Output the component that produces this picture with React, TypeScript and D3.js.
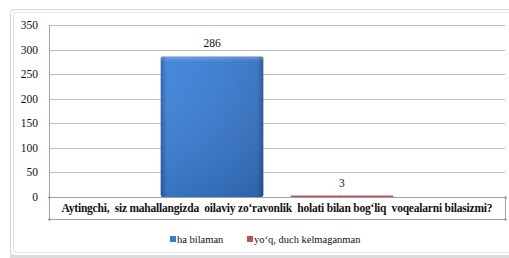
import * as d3 from "d3";

const categories = [
  "Aytingchi,  siz mahallangizda  oilaviy zo‘ravonlik  holati bilan bog‘liq  voqealarni bilasizmi?",
];
const seriesNames = ["ha bilaman", "yoʻq, duch kelmaganman"];
const seriesValues = [286, 3];
const seriesColors = ["#3a7bd0", "#c0504d"];
const yTicks = [0, 50, 100, 150, 200, 250, 300, 350];

const W = 509;
const H = 258;
const margin = { left: 49, right: 4, top: 25, axisY: 197, labelBottom: 219 };
const FONT = "'Liberation Serif', serif";
const legendX = [170, 247];

export default function App() {
  const x1 = margin.left;
  const x2 = W - margin.right;

  const y = d3.scaleLinear().domain([0, 350]).range([margin.axisY, margin.top]);

  const x0 = d3
    .scaleBand<string>()
    .domain(categories)
    .range([x1, x2])
    .paddingInner(0)
    .paddingOuter(0.48);

  const xs = d3
    .scaleBand<string>()
    .domain(seriesNames)
    .range([0, x0.bandwidth()])
    .paddingInner(0.21);

  const axisColor = "#9aa3ad";
  const y0 = Math.round(y(0)) + 0.5;
  const yb = margin.labelBottom + 0.5;

  return (
    <svg
      width={W}
      height={H}
      style={{ position: "absolute", left: 0, top: 0, display: "block", fontFamily: FONT }}
    >
      <defs>
        <linearGradient id="blueGrad" x1="0" x2="1" y1="0" y2="0">
          <stop offset="0%" stopColor="#2c5fa6" />
          <stop offset="6%" stopColor="#3f82d8" />
          <stop offset="50%" stopColor="#3a7bd0" />
          <stop offset="94%" stopColor="#3570c0" />
          <stop offset="100%" stopColor="#27549a" />
        </linearGradient>
        <linearGradient id="blueShade" x1="0" x2="0" y1="0" y2="1">
          <stop offset="0%" stopColor="#fff" stopOpacity={0.25} />
          <stop offset="4%" stopColor="#fff" stopOpacity={0.05} />
          <stop offset="100%" stopColor="#000" stopOpacity={0.12} />
        </linearGradient>
      </defs>

      {/* frame */}
      <rect x={0} y={0} width={W} height={H} fill="#fff" />
      <rect x={10.5} y={9.5} width={520} height={246} rx={4} fill="none" stroke="#d4d4d4" />
      <rect x={13.5} y={12.5} width={520} height={240} rx={3} fill="none" stroke="#e4e4e4" />
      <rect x={10} y={255} width={W} height={3} fill="#dcdcdc" />

      {/* gridlines */}
      {yTicks
        .filter((d) => d > 0)
        .map((d) => (
          <line
            key={d}
            x1={x1}
            x2={x2}
            y1={Math.round(y(d)) + 0.5}
            y2={Math.round(y(d)) + 0.5}
            stroke="#bdbdbd"
          />
        ))}

      {/* tick labels */}
      {yTicks.map((d) => (
        <text
          key={d}
          x={38}
          y={y(d) + 4}
          textAnchor="end"
          fontSize={11.5}
          fill="#111"
          style={{ fontFamily: FONT }}
        >
          {d}
        </text>
      ))}

      {/* bars */}
      {seriesNames.map((name, i) => {
        const bx = (x0(categories[0]) ?? 0) + (xs(name) ?? 0);
        const by = y(seriesValues[i]);
        const bh = y(0) - by;
        return (
          <g key={name}>
            <rect
              x={bx}
              y={by}
              width={xs.bandwidth()}
              height={bh}
              rx={i === 0 ? 2 : 0}
              fill={i === 0 ? "url(#blueGrad)" : seriesColors[i]}
            />
            {i === 0 && (
              <rect x={bx} y={by} width={xs.bandwidth()} height={bh} rx={2} fill="url(#blueShade)" />
            )}
            <text
              x={bx + xs.bandwidth() / 2}
              y={by - 9}
              textAnchor="middle"
              fontSize={11.5}
              fill="#111"
              style={{ fontFamily: FONT }}
            >
              {seriesValues[i]}
            </text>
          </g>
        );
      })}

      {/* axes and category box */}
      <line x1={x1 + 0.5} x2={x1 + 0.5} y1={margin.top} y2={margin.labelBottom} stroke={axisColor} />
      <line x1={x1} x2={x2} y1={y0} y2={y0} stroke={axisColor} />
      <line x1={x1} x2={x2} y1={yb} y2={yb} stroke={axisColor} />
      <line x1={x2 + 0.5} x2={x2 + 0.5} y1={y0} y2={yb} stroke={axisColor} />
      {[
        [x1 + 0.5, y0],
        [x1 + 0.5, yb],
        [x2 + 0.5, y0],
        [x2 + 0.5, yb],
      ].map(([cx, cy], k) => (
        <circle key={k} cx={cx} cy={cy} r={1.3} fill="#8899aa" />
      ))}

      <text
        x={(x1 + x2) / 2}
        y={212}
        textAnchor="middle"
        fontSize={11.5}
        fontWeight="bold"
        fill="#111"
        textLength={431}
        lengthAdjust="spacing"
        style={{ whiteSpace: "pre", fontFamily: FONT }}
      >
        {categories[0]}
      </text>

      {/* legend */}
      {seriesNames.map((name, i) => (
        <g key={name}>
          <rect x={legendX[i]} y={236} width={6} height={6} fill={seriesColors[i]} />
          <text
            x={legendX[i] + 7}
            y={243}
            fontSize={10.5}
            fill="#111"
            style={{ fontFamily: FONT }}
          >
            {name}
          </text>
        </g>
      ))}
    </svg>
  );
}
